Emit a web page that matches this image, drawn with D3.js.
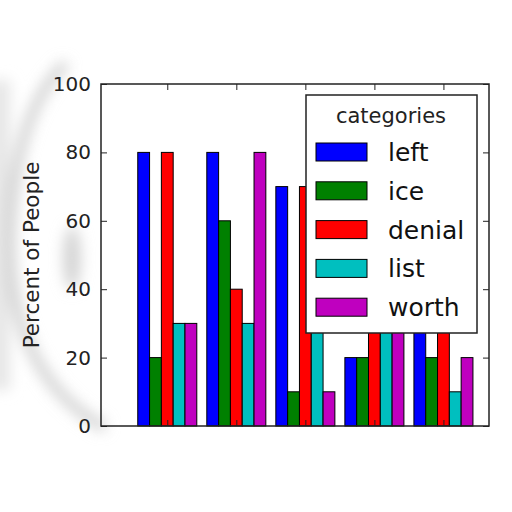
<!DOCTYPE html>
<html>
<head>
<meta charset="utf-8">
<script src="https://cdn.jsdelivr.net/npm/d3@7"></script>
<style>
  body { margin: 0; background: #fff; }
  text { font-family: "DejaVu Sans", sans-serif; }
</style>
</head>
<body>
<div id="vis"></div>
<script>
// data (values hidden behind the legend are guesses)
const groups = ['g1', 'g2', 'g3', 'g4', 'g5'];
const categories = ['left', 'ice', 'denial', 'list', 'worth'];
const colors = ['#0000ff', '#008000', '#ff0000', '#00bfbf', '#bf00bf'];
const left = [80, 80, 70, 20, 60];
const ice = [20, 60, 10, 20, 20];
const denial = [80, 40, 70, 50, 70];
const list = [30, 30, 60, 50, 10];
const worth = [30, 80, 10, 60, 20];
const series = [left, ice, denial, list, worth];
const yTicks = [0, 20, 40, 60, 80, 100];

const width = 512;
const height = 512;
const frame = { left: 101, right: 489, top: 84, bottom: 426 };
const barWidth = 0.171;

let svg = d3.select('#vis')
  .append('svg')
  .attr('width', width)
  .attr('height', height);

// soft photo shadows on the left
let defs = svg.append('defs');
defs.append('filter').attr('id', 'blur')
  .attr('x', '-50%').attr('y', '-50%').attr('width', '200%').attr('height', '200%')
  .append('feGaussianBlur').attr('stdDeviation', 7);

let shade = svg.append('g').attr('filter', 'url(#blur)');
shade.append('rect')
  .attr('x', -10).attr('y', 80).attr('width', 20).attr('height', 310)
  .attr('fill', '#e6e6e6');
shade.append('path')
  .attr('d', 'M66,64 Q14,110 10,240 Q10,375 105,428')
  .attr('fill', 'none')
  .attr('stroke', '#d0d0d0')
  .attr('stroke-width', 10);
shade.append('ellipse')
  .attr('cx', 72).attr('cy', 258).attr('rx', 9).attr('ry', 32)
  .attr('fill', '#d4d4d4');

let x = d3.scaleLinear()
  .domain([-0.96, 4.66])
  .range([frame.left, frame.right]);

let y = d3.scaleLinear()
  .domain([0, 100])
  .range([frame.bottom, frame.top]);

// bars
series.forEach(function (values, j) {
  svg.append('g')
    .selectAll('rect')
    .data(values)
    .enter().append('rect')
    .attr('x', function (d, i) { return x(i + (j - 2.5) * barWidth); })
    .attr('y', function (d) { return y(d); })
    .attr('width', x(barWidth) - x(0))
    .attr('height', function (d) { return y(0) - y(d); })
    .attr('fill', colors[j])
    .attr('stroke', '#000')
    .attr('stroke-width', 1);
});

// axes, matplotlib classic style: ticks inside on all four sides
let tickLen = 6;
let groupTicks = groups.map(function (g, i) { return i; });

svg.append('g')
  .attr('transform', 'translate(' + frame.left + ',0)')
  .call(d3.axisLeft(y).tickValues(yTicks).tickSizeInner(-tickLen).tickSizeOuter(0).tickPadding(10))
  .call(function (g) {
    g.select('.domain').remove();
    g.selectAll('text').attr('font-size', 20).attr('fill', '#222').attr('font-family', 'DejaVu Sans');
    g.selectAll('line').attr('stroke', '#222');
  });

svg.append('g')
  .attr('transform', 'translate(' + frame.right + ',0)')
  .call(d3.axisRight(y).tickValues(yTicks).tickSizeInner(-tickLen).tickSizeOuter(0).tickFormat(''))
  .call(function (g) {
    g.select('.domain').remove();
    g.selectAll('line').attr('stroke', '#222');
  });

svg.append('g')
  .attr('transform', 'translate(0,' + frame.top + ')')
  .call(d3.axisTop(x).tickValues(groupTicks).tickSizeInner(-tickLen).tickSizeOuter(0).tickFormat(''))
  .call(function (g) {
    g.select('.domain').remove();
    g.selectAll('line').attr('stroke', '#222');
  });

svg.append('g')
  .attr('transform', 'translate(0,' + frame.bottom + ')')
  .call(d3.axisBottom(x).tickValues(groupTicks).tickSizeInner(-tickLen).tickSizeOuter(0).tickFormat(''))
  .call(function (g) {
    g.select('.domain').remove();
    g.selectAll('line').attr('stroke', '#222');
  });

svg.append('rect')
  .attr('x', frame.left).attr('y', frame.top)
  .attr('width', frame.right - frame.left)
  .attr('height', frame.bottom - frame.top)
  .attr('fill', 'none')
  .attr('stroke', '#222')
  .attr('stroke-width', 1.5);

// y label
svg.append('text')
  .attr('transform', 'translate(39,255) rotate(-90)')
  .attr('text-anchor', 'middle')
  .attr('font-size', 21.5)
  .attr('fill', '#222')
  .text('Percent of People');

// legend
let legend = svg.append('g').attr('transform', 'translate(306,95)');
legend.append('rect')
  .attr('width', 171).attr('height', 238)
  .attr('fill', '#fff')
  .attr('stroke', '#222')
  .attr('stroke-width', 1.5);
legend.append('text')
  .attr('x', 85).attr('y', 28)
  .attr('text-anchor', 'middle')
  .attr('font-size', 21)
  .attr('fill', '#222')
  .text('categories');

let rows = legend.selectAll('.row')
  .data(categories)
  .enter().append('g')
  .attr('class', 'row')
  .attr('transform', function (d, i) { return 'translate(0,' + (57 + i * 38.8) + ')'; });

rows.append('rect')
  .attr('x', 10).attr('y', -9)
  .attr('width', 51).attr('height', 18)
  .attr('fill', function (d, i) { return colors[i]; })
  .attr('stroke', '#000')
  .attr('stroke-width', 1);

rows.append('text')
  .attr('x', 82).attr('y', 9)
  .attr('font-size', 25)
  .attr('fill', '#111')
  .text(function (d) { return d; });
</script>
</body>
</html>
